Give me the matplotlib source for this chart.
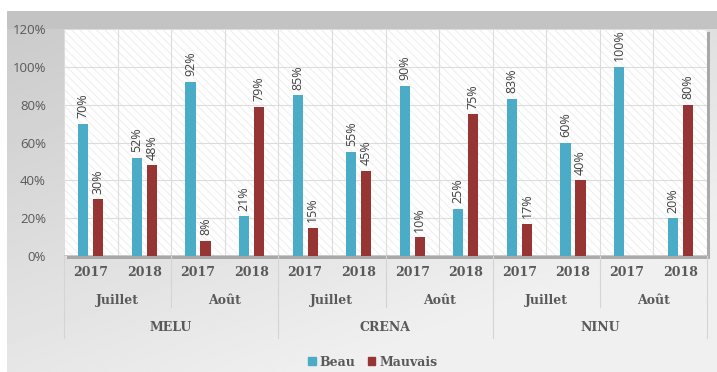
import numpy as np
import matplotlib.pyplot as plt
from matplotlib.patches import Rectangle, Patch
from matplotlib.lines import Line2D

sites = ["MELU", "CRENA", "NINU"]
months = ["Juillet", "Août"]
years = ["2017", "2018"]

beau = [70, 52, 92, 21, 85, 55, 90, 25, 83, 60, 100, 20]
mauvais = [30, 48, 8, 79, 15, 45, 10, 75, 17, 40, 0, 80]

c_beau = "#4aacc6"
c_mauvais = "#973535"
txt = "#595959"
serif = "DejaVu Serif"

W, H = 717, 372
fig = plt.figure(figsize=(W / 100, H / 100), dpi=100)

# grey gradient panel behind the chart
bg = fig.add_axes([0, 0, 1, 1], zorder=-10)
bg.set_xlim(0, W)
bg.set_ylim(H, 0)
bg.axis("off")
yy, xx = np.mgrid[0:1:200j, 0:1:300j]
shade = 0.79 + 0.15 * np.clip(0.55 * xx + 0.75 * yy, 0, 1)
bg.imshow(shade, cmap="gray", vmin=0, vmax=1, extent=(7, W, H, 11), aspect="auto", interpolation="bilinear")
bg.add_patch(Rectangle((7, 11), W - 7, 18, color="#c3c3c3", lw=0))

# plot area
x0, x1, ytop, ybot = 64, 707, 29, 256
ax = fig.add_axes([x0 / W, (H - ybot) / H, (x1 - x0) / W, (ybot - ytop) / H])
bg.add_patch(Rectangle((x0 + 3, ytop + 3), x1 - x0, ybot - ytop, color="#9a9a9a", lw=0, alpha=0.8))

ax.set_facecolor("white")
plt.rcParams["hatch.color"] = "#efefef"
plt.rcParams["hatch.linewidth"] = 0.8
ax.add_patch(Rectangle((0, 0), 1, 1, transform=ax.transAxes, facecolor="white",
                       hatch="\\\\\\\\", edgecolor="#efefef", lw=0, zorder=0))

n = len(beau)
x = np.arange(n)
bw = 0.19
off = 0.14
b1 = ax.bar(x - off, np.array(beau) / 100, bw, color=c_beau, zorder=3)
b2 = ax.bar(x + off, np.array(mauvais) / 100, bw, color=c_mauvais, zorder=3)

for bars, vals in [(b1, beau), (b2, mauvais)]:
    for b, v in zip(bars, vals):
        if v == 0:
            continue
        ax.annotate(f"{v}%", (b.get_x() + b.get_width() / 2, v / 100),
                    xytext=(0, 4), textcoords="offset points", rotation=90,
                    ha="center", va="bottom", fontsize=9, color="#404040",
                    family="Open Sans", zorder=4)

ax.set_xlim(-0.5, n - 0.5)
ax.set_ylim(0, 1.2)
ax.set_yticks(np.arange(0, 1.21, 0.2))
ax.set_yticklabels([f"{int(round(t * 100))}%" for t in np.arange(0, 1.21, 0.2)],
                   fontsize=9.5, color=txt, family="Open Sans")
ax.set_xticks(np.arange(-0.5, n, 1))
ax.set_xticklabels([])
ax.tick_params(length=0, pad=13)
ax.grid(True, color="#dcdcdc", lw=0.8, zorder=1)
for s in ax.spines.values():
    s.set_visible(False)
ax.axhline(0, color="#bfbfbf", lw=1.2, zorder=2)

# multi-level category labels
tr = ax.get_xaxis_transform()
ys, ym, yst = -0.072, -0.195, -0.315
for i in range(n):
    ax.text(i, ys, years[i % 2], transform=tr, ha="center", va="center",
            fontsize=9, fontweight="bold", color=txt, family=serif)
for j in range(n // 2):
    ax.text(2 * j + 0.5, ym, months[j % 2], transform=tr, ha="center", va="center",
            fontsize=9, fontweight="bold", color=txt, family=serif)
for k, s in enumerate(sites):
    ax.text(4 * k + 1.5, yst, s, transform=tr, ha="center", va="center",
            fontsize=9, fontweight="bold", color=txt, family=serif)

for b in np.arange(-0.5, n, 2):
    bottom = -0.36 if (b + 0.5) % 4 == 0 else -0.225
    ax.add_line(Line2D([b, b], [0, bottom], transform=tr, color="#d4d4d4",
                       lw=0.8, clip_on=False))

handles = [Patch(color=c_beau, label="Beau"), Patch(color=c_mauvais, label="Mauvais")]
leg = fig.legend(handles=handles, loc="center", bbox_to_anchor=(0.52, (H - 362) / H),
                 ncol=2, frameon=False, handlelength=0.6, handleheight=0.6,
                 handletextpad=0.3, columnspacing=1.0,
                 prop={"family": serif, "weight": "bold", "size": 9})
for t in leg.get_texts():
    t.set_color(txt)

fig.savefig("out.png", dpi=100)
